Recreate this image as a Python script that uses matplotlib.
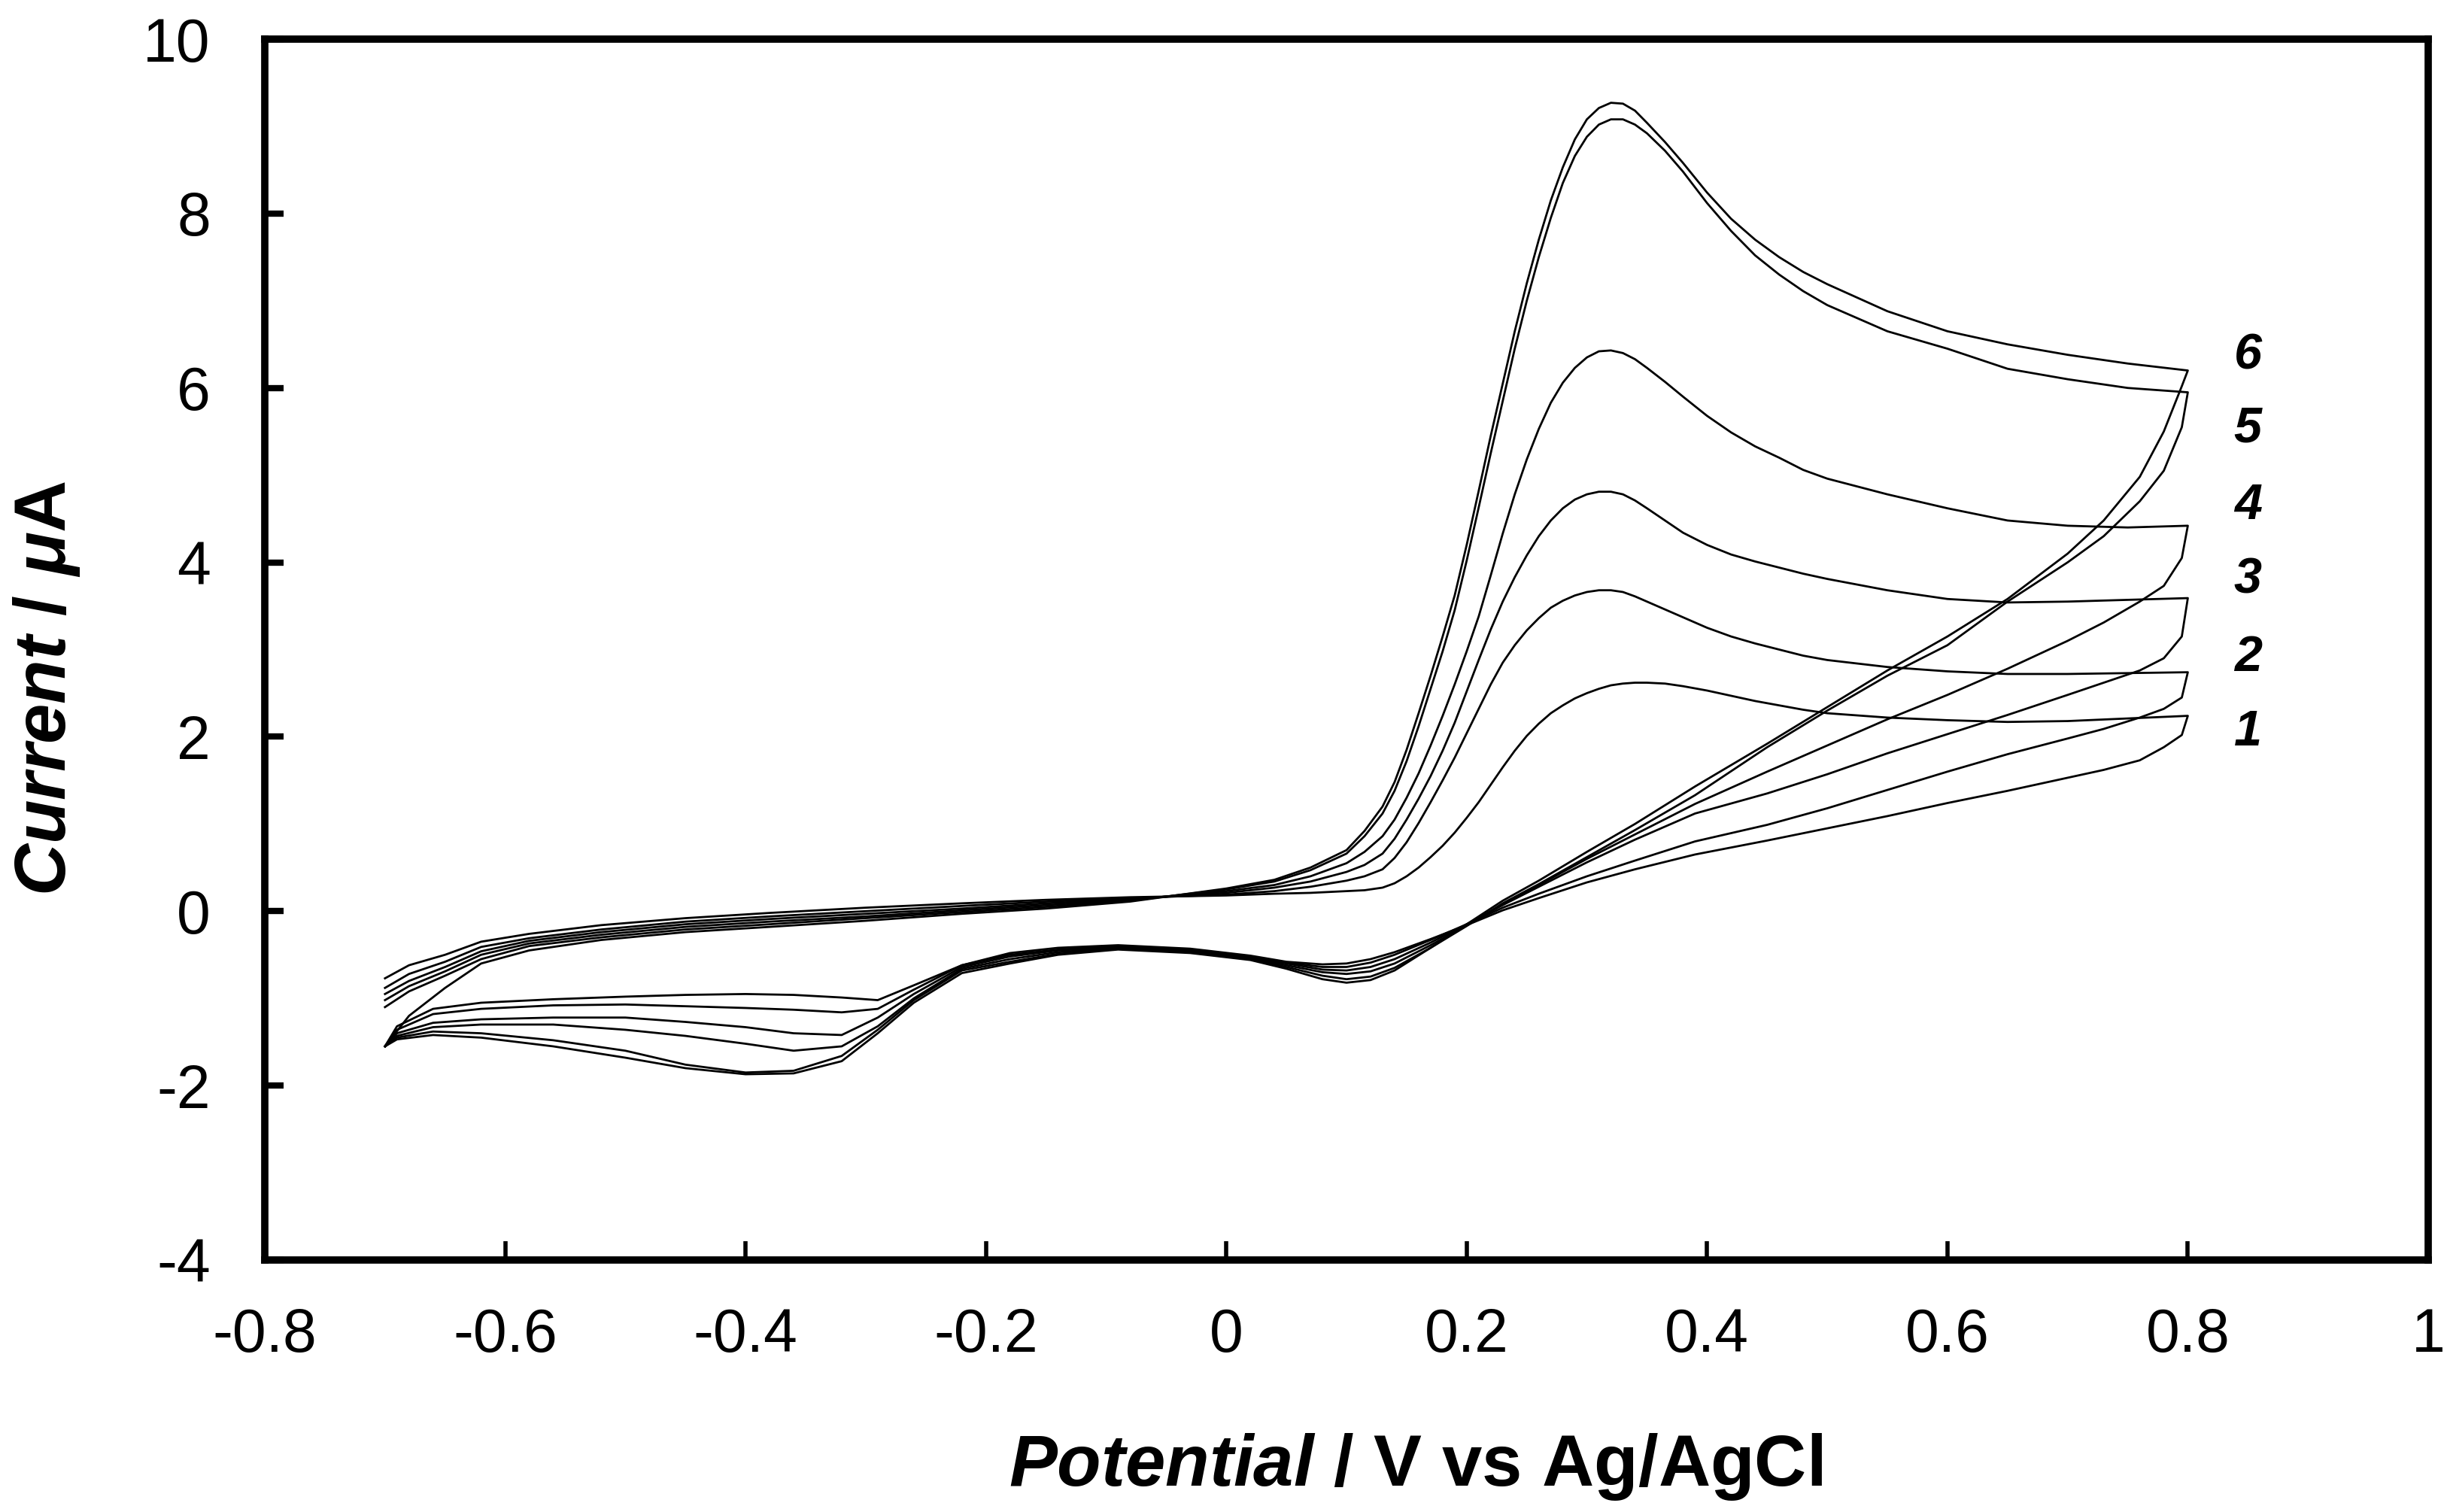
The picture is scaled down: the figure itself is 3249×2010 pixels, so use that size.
import numpy as np
import matplotlib
matplotlib.use("Agg")
import matplotlib.pyplot as plt

# cyclic voltammograms, curves 1..6
# forward (anodic) scan, -0.70 -> 0.80 V
x_fwd = [-0.70, -0.68, -0.65, -0.62, -0.58, -0.52, -0.45, -0.38, -0.30, -0.22,
         -0.15, -0.08, 0.00, 0.04, 0.07, 0.10, 0.115, 0.13, 0.14, 0.15,
         0.16, 0.17, 0.18, 0.19, 0.20, 0.21, 0.22, 0.23, 0.24, 0.25,
         0.26, 0.27, 0.28, 0.29, 0.30, 0.31, 0.32, 0.33, 0.34, 0.35,
         0.365, 0.38, 0.40, 0.42, 0.44, 0.46, 0.48, 0.50, 0.55, 0.60,
         0.65, 0.70, 0.75, 0.80]

fwd_1 = [-0.77, -0.62, -0.50, -0.35, -0.26, -0.16, -0.08, -0.02, 0.04, 0.09,
         0.13, 0.16, 0.18, 0.20, 0.21, 0.23, 0.24, 0.27, 0.32, 0.40,
         0.50, 0.62, 0.75, 0.90, 1.07, 1.25, 1.45, 1.65, 1.84, 2.01,
         2.15, 2.27, 2.36, 2.44, 2.50, 2.55, 2.59, 2.61, 2.62, 2.62,
         2.61, 2.58, 2.53, 2.47, 2.41, 2.36, 2.31, 2.27, 2.22, 2.19,
         2.17, 2.18, 2.21, 2.24]
fwd_2 = [-0.88, -0.72, -0.58, -0.41, -0.31, -0.21, -0.12, -0.06, 0.00, 0.06,
         0.11, 0.15, 0.19, 0.23, 0.28, 0.35, 0.40, 0.48, 0.61, 0.79,
         1.01, 1.25, 1.50, 1.76, 2.04, 2.32, 2.60, 2.85, 3.05, 3.22,
         3.36, 3.48, 3.56, 3.62, 3.66, 3.68, 3.68, 3.66, 3.61, 3.55,
         3.46, 3.37, 3.25, 3.15, 3.07, 3.00, 2.93, 2.88, 2.80, 2.75,
         2.72, 2.72, 2.73, 2.74]
fwd_3 = [-0.95, -0.80, -0.64, -0.46, -0.34, -0.24, -0.15, -0.09, -0.03, 0.03,
         0.09, 0.14, 0.21, 0.27, 0.34, 0.45, 0.53, 0.66, 0.83, 1.05,
         1.29, 1.55, 1.84, 2.16, 2.52, 2.88, 3.23, 3.55, 3.83, 4.08,
         4.30, 4.48, 4.62, 4.72, 4.78, 4.81, 4.81, 4.78, 4.71, 4.62,
         4.48, 4.34, 4.20, 4.09, 4.01, 3.94, 3.87, 3.81, 3.68, 3.58,
         3.54, 3.55, 3.57, 3.59]
fwd_4 = [-1.02, -0.86, -0.69, -0.50, -0.37, -0.27, -0.18, -0.12, -0.06, 0.01,
         0.07, 0.13, 0.23, 0.30, 0.40, 0.55, 0.68, 0.86, 1.05, 1.30,
         1.58, 1.90, 2.24, 2.60, 2.98, 3.38, 3.85, 4.33, 4.78, 5.18,
         5.53, 5.83, 6.06, 6.23, 6.35, 6.42, 6.43, 6.40, 6.33, 6.23,
         6.07, 5.90, 5.68, 5.49, 5.33, 5.20, 5.06, 4.96, 4.78, 4.62,
         4.48, 4.42, 4.40, 4.42]
fwd_5 = [-1.10, -0.92, -0.74, -0.55, -0.40, -0.30, -0.21, -0.15, -0.08, -0.01,
         0.05, 0.12, 0.25, 0.34, 0.47, 0.66, 0.86, 1.12, 1.38, 1.72,
         2.12, 2.55, 2.98, 3.45, 4.02, 4.63, 5.25, 5.85, 6.45, 7.00,
         7.50, 7.95, 8.35, 8.66, 8.88, 9.02, 9.08, 9.08, 9.02, 8.92,
         8.72, 8.48, 8.12, 7.80, 7.52, 7.30, 7.11, 6.95, 6.65, 6.45,
         6.22, 6.10, 6.00, 5.95]
fwd_6 = [-1.55, -1.20, -0.88, -0.60, -0.45, -0.33, -0.24, -0.18, -0.11, -0.03,
         0.03, 0.11, 0.26, 0.36, 0.50, 0.70, 0.92, 1.20, 1.48, 1.85,
         2.27, 2.70, 3.15, 3.62, 4.20, 4.82, 5.45, 6.05, 6.65, 7.20,
         7.70, 8.15, 8.53, 8.85, 9.08, 9.21, 9.27, 9.26, 9.18, 9.04,
         8.82, 8.58, 8.24, 7.94, 7.70, 7.50, 7.33, 7.19, 6.88, 6.65,
         6.50, 6.38, 6.28, 6.20]

# reverse (cathodic) scan, 0.80 -> -0.70 V
x_rev = [0.80, 0.795, 0.78, 0.76, 0.73, 0.70, 0.65, 0.60, 0.55, 0.50,
         0.45, 0.39, 0.34, 0.30, 0.26, 0.23, 0.20, 0.17, 0.14, 0.12,
         0.10, 0.08, 0.05, 0.02, -0.03, -0.09, -0.14, -0.18, -0.22, -0.26,
         -0.29, -0.32, -0.36, -0.40, -0.45, -0.50, -0.56, -0.62, -0.66, -0.69,
         -0.70]

rev_1 = [2.24, 2.02, 1.88, 1.73, 1.62, 1.53, 1.38, 1.24, 1.09, 0.95,
         0.81, 0.65, 0.48, 0.33, 0.15, 0.01, -0.16, -0.32, -0.47, -0.55,
         -0.60, -0.61, -0.58, -0.51, -0.43, -0.39, -0.42, -0.48, -0.62, -0.85,
         -1.02, -0.99, -0.96, -0.95, -0.96, -0.98, -1.01, -1.05, -1.12, -1.32,
         -1.55]
rev_2 = [2.74, 2.45, 2.32, 2.22, 2.09, 1.98, 1.80, 1.60, 1.39, 1.18,
         0.99, 0.80, 0.58, 0.40, 0.20, 0.04, -0.15, -0.33, -0.50, -0.59,
         -0.64, -0.64, -0.59, -0.52, -0.44, -0.40, -0.44, -0.50, -0.62, -0.90,
         -1.12, -1.16, -1.13, -1.11, -1.09, -1.07, -1.08, -1.12, -1.18, -1.36,
         -1.55]
rev_3 = [3.59, 3.15, 2.90, 2.76, 2.62, 2.48, 2.25, 2.03, 1.81, 1.57,
         1.35, 1.12, 0.82, 0.56, 0.28, 0.07, -0.15, -0.36, -0.55, -0.64,
         -0.68, -0.67, -0.60, -0.53, -0.45, -0.41, -0.45, -0.52, -0.64, -0.95,
         -1.22, -1.42, -1.40, -1.33, -1.27, -1.22, -1.22, -1.24, -1.28, -1.40,
         -1.55]
rev_4 = [4.42, 4.05, 3.73, 3.55, 3.31, 3.10, 2.78, 2.48, 2.20, 1.90,
         1.60, 1.23, 0.88, 0.60, 0.30, 0.08, -0.16, -0.39, -0.60, -0.69,
         -0.72, -0.70, -0.62, -0.54, -0.46, -0.42, -0.47, -0.55, -0.66, -1.00,
         -1.32, -1.55, -1.60, -1.52, -1.43, -1.36, -1.30, -1.30, -1.33, -1.43,
         -1.55]
rev_5 = [5.95, 5.55, 5.05, 4.70, 4.30, 4.00, 3.55, 3.05, 2.70, 2.30,
         1.88, 1.33, 0.93, 0.62, 0.31, 0.09, -0.17, -0.42, -0.65, -0.75,
         -0.78, -0.74, -0.64, -0.55, -0.47, -0.43, -0.49, -0.58, -0.68, -1.02,
         -1.36, -1.66, -1.83, -1.85, -1.76, -1.60, -1.48, -1.40, -1.38, -1.45,
         -1.55]
rev_6 = [6.20, 6.02, 5.50, 4.98, 4.48, 4.10, 3.58, 3.15, 2.76, 2.34,
         1.92, 1.43, 1.00, 0.68, 0.35, 0.12, -0.15, -0.42, -0.68, -0.79,
         -0.82, -0.78, -0.66, -0.56, -0.48, -0.44, -0.50, -0.60, -0.71, -1.05,
         -1.40, -1.72, -1.86, -1.87, -1.80, -1.68, -1.55, -1.45, -1.42, -1.47,
         -1.55]

forward = [fwd_1, fwd_2, fwd_3, fwd_4, fwd_5, fwd_6]
reverse = [rev_1, rev_2, rev_3, rev_4, rev_5, rev_6]

curve_names = ['1', '2', '3', '4', '5', '6']
label_x = 0.85
label_y = [2.05, 2.90, 3.79, 4.64, 5.53, 6.36]

x_ticks = [-0.8, -0.6, -0.4, -0.2, 0, 0.2, 0.4, 0.6, 0.8, 1]
x_ticklabels = ['-0.8', '-0.6', '-0.4', '-0.2', '0', '0.2', '0.4', '0.6', '0.8', '1']
y_ticks = [-4, -2, 0, 2, 4, 6, 8, 10]
y_ticklabels = ['-4', '-2', '0', '2', '4', '6', '8', '10']

plt.rcParams['font.family'] = ['Liberation Sans', 'DejaVu Sans']
plt.rcParams['mathtext.fontset'] = 'custom'
plt.rcParams['mathtext.it'] = 'Liberation Sans:italic:bold'
plt.rcParams['mathtext.rm'] = 'Liberation Sans:bold'

W, H = 3249, 2010
fig = plt.figure(figsize=(W / 100, H / 100), dpi=100)
ax = fig.add_axes([352 / W, 1 - 1675 / H, (3228 - 352) / W, (1675 - 52) / H])

for yf, yr in zip(forward, reverse):
    xs = list(x_fwd) + list(x_rev)
    ys = list(yf) + list(yr)
    ax.plot(xs, ys, color='black', lw=2.0, solid_joinstyle='round')

for name, ly in zip(curve_names, label_y):
    ax.text(label_x, ly, name, fontsize=48, fontweight='bold', fontstyle='italic',
            ha='center', va='center')

ax.set_xlim(-0.8, 1.0)
ax.set_ylim(-4, 10)
ax.set_xticks(x_ticks)
ax.set_xticklabels(x_ticklabels)
ax.set_yticks(y_ticks)
ax.set_yticklabels(y_ticklabels)
for s in ax.spines.values():
    s.set_linewidth(7.0)
ax.tick_params(axis='both', direction='in', length=18, labelsize=58)
ax.tick_params(axis='y', width=6, pad=52)
ax.tick_params(axis='x', width=4, pad=45)

fig.text(1882 / W, 1 - 1975 / H, r'$\mathit{Potential}$ / V vs Ag/AgCl',
         fontsize=69, fontweight='bold', ha='center', va='baseline')
fig.text(62 / W, 1 - 915 / H, r'$\mathit{Current}$ / $\mathit{μ}$A',
         fontsize=69, fontweight='bold', rotation=90, ha='center', va='center')

fig.savefig('out.png', dpi=100, facecolor='white')
